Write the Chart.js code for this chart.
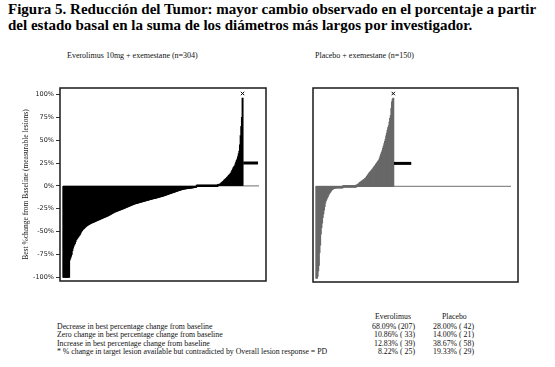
<!DOCTYPE html>
<html>
<head>
<meta charset="utf-8">
<script src="https://cdn.jsdelivr.net/npm/chart.js@4.4.1/dist/chart.umd.min.js"></script>
<style>
  html, body { margin: 0; padding: 0; background: #fff; }
  body { width: 555px; height: 367px; position: relative; overflow: hidden;
         font-family: "Liberation Serif", "Times New Roman", serif; color: #000; }
  .title { position: absolute; left: 8px; top: 1px; font-weight: bold; font-size: 15px;
           line-height: 16px; white-space: nowrap; }
  .sub { position: absolute; top: 51px; font-size: 8px; white-space: nowrap; color: #111; }
  .cv { position: absolute; }
  .tbl { position: absolute; font-size: 7.8px; white-space: pre; color: #111; line-height: 9px; }
</style>
</head>
<body>
<div class="title">Figura 5. Reducción del Tumor: mayor cambio observado en el porcentaje a partir<br>del estado basal en la suma de los diámetros más largos por investigador.</div>
<div class="sub" style="left:67px">Everolimus 10mg + exemestane (n=304)</div>
<div class="sub" style="left:315px">Placebo + exemestane (n=150)</div>
<div class="cv" style="left:0;top:80px;width:275px;height:210px"><canvas id="eveChart"></canvas></div>
<div class="cv" style="left:300px;top:80px;width:255px;height:210px"><canvas id="pboChart"></canvas></div>
<div id="table"></div>

<script>
// ── Waterfall data: best % change from baseline, one value per patient ──
// Everolimus arm: 207 decreases, 33 zero, 39 increases (sorted)
const eveChange = [
  -100, -100, -100, -100, -100, -100, -100, -100, -100, -100,
  -81, -79, -77, -75, -71, -68, -66, -64.5, -63, -61, -59,
  -58, -57, -56, -55, -54, -53, -51.5, -50, -49, -48,
  -47.3, -46.6, -46, -45.3, -44.6, -44,
  -43.5, -43, -42.6, -42.2, -41.8, -41.4, -41,
  -40.7, -40.4, -40.1, -39.8, -39.5, -39.2, -38.9, -38.5,
  -38.2, -37.9, -37.6, -37.3, -37, -36.7, -36.3, -36,
  -35.7, -35.4, -35.1, -34.8, -34.5, -34.2, -33.9, -33.6, -33.3, -33,
  -32.6, -32.2, -31.8, -31.4, -31, -30.6, -30.2, -29.8, -29.4, -29,
  -28.7, -28.4, -28.2, -27.9, -27.6, -27.3, -27, -26.8, -26.5, -26.2, -26,
  -25.7, -25.4, -25.1, -24.8, -24.5, -24.2, -23.9, -23.6, -23.3, -23,
  -22.7, -22.4, -22.1, -21.8, -21.5, -21.2, -20.9, -20.6, -20.3, -20,
  -19.8, -19.6, -19.4, -19.2, -19, -18.8, -18.6, -18.4, -18.2, -18, -17.8, -17.6, -17.4, -17.2, -17,
  -16.8, -16.6, -16.4, -16.2, -16, -15.8, -15.6, -15.4, -15.2, -15, -14.8, -14.6, -14.4, -14.2, -14.1, -14,
  -13.8, -13.6, -13.4, -13.2, -13, -12.8, -12.6, -12.4, -12.2, -12, -11.8, -11.6, -11.4, -11.2, -11,
  -10.7, -10.5, -10.2, -10, -9.7, -9.5, -9.2, -9, -8.7, -8.5, -8.2, -8, -7.7, -7.5, -7.2, -7,
  -6.8, -6.5, -6.3, -6, -5.8, -5.5, -5.3, -5, -4.8, -4.6, -4.4, -4.2, -4, -3.8, -3.6,
  -3.5, -3.4, -3.3, -3.2, -3.1, -3, -2.9, -2.8, -2.7, -2.6, -2.5, -2.4, -2.3, -2.2, -2.1, -2, -1.7, -1.4, -1,
  0, 0, 0, 0, 0, 0, 0, 0, 0, 0, 0, 0, 0, 0, 0, 0, 0, 0, 0, 0, 0, 0, 0, 0, 0, 0, 0, 0, 0, 0, 0, 0, 0,
  0.5, 1, 1.5, 2, 2.5, 3.2, 3.8, 4.4, 5, 5.8, 6.6, 7.2, 7.8, 8.4, 9.2, 10, 10.8, 11.6, 12.4, 13.2,
  14, 15.5, 17, 18.5, 20, 21, 22, 24, 26, 28, 29.5, 32, 35, 38, 45, 55, 65, 75, 96
];

// Placebo arm: 42 decreases, 21 zero, 58 increases (sorted)
const pboChange = [
  -100, -100, -98, -92, -86, -72, -64, -52, -45, -40,
  -34, -30, -26, -22, -18, -15.5, -14, -12.5, -11, -9.5,
  -8, -7, -6, -5, -4, -3.5, -3, -2.5, -2.2, -2,
  -2, -1.8, -1.8, -1.6, -1.5, -1.4, -1.3, -1.2, -1, -1, -0.8, -0.6,
  0, 0, 0, 0, 0, 0, 0, 0, 0, 0, 0, 0, 0, 0, 0, 0, 0, 0, 0, 0, 0,
  0.8, 1.5, 2.2, 3, 3.7, 4.2, 4.7, 5.3, 5.8, 6.3, 6.8, 7.3, 7.9, 8.5, 9,
  10, 11, 12, 13, 14, 15, 15.8, 16.5, 17.3, 18.2, 19, 20, 21, 22, 22.8,
  24, 25, 26, 27, 28, 29, 31, 33, 35, 37, 39, 41.5, 44, 46.5, 49,
  51.5, 55, 58, 61, 64, 66, 70, 74, 77, 85, 92, 95, 96
];

// "*" patients (contradicted by overall response = PD) plotted at this level
const pdLevel = 25;
// capped-value marker drawn above the tallest bar
const capMark = 101;
const nSlots = 304;            // shared x axis: one slot per patient of the larger arm
const yTicks = [-100, -75, -50, -25, 0, 25, 50, 75, 100];

// Summary table
const rowLabels = [
  'Decrease in best percentage change from baseline',
  'Zero change in best percentage change from baseline',
  'Increase in best percentage change from baseline',
  '* % change in target lesion available but contradicted by Overall lesion response = PD'
];
const evePct = [68.09, 10.86, 12.83, 8.22];
const eveN   = [207, 33, 39, 25];
const pboPct = [28.00, 14.00, 38.67, 19.33];
const pboN   = [42, 21, 58, 29];

// ── table ──
(function buildTable() {
  const t = document.getElementById('table');
  const add = (txt, css) => {
    const d = document.createElement('div');
    d.className = 'tbl';
    d.style.cssText = css;
    d.textContent = txt;
    t.appendChild(d);
  };
  add('Everolimus', 'left:375px;top:311.5px');
  add('Placebo', 'left:442px;top:311.5px');
  const cell = (p, n) => p.toFixed(2) + '% (' + String(n).padStart(3, ' ') + ')';
  const rowTop = [321.5, 330, 338.5, 347];
  rowLabels.forEach((lab, i) => {
    add(lab, `left:57px;top:${rowTop[i]}px`);
    add(cell(evePct[i], eveN[i]), `right:${555 - 415}px;top:${rowTop[i]}px`);
    add(cell(pboPct[i], pboN[i]), `right:${555 - 474}px;top:${rowTop[i]}px`);
  });
})();

// ── charts ──
const framePlugin = {
  id: 'frame',
  afterDraw(chart) {
    const { ctx, chartArea: a } = chart;
    ctx.save();
    ctx.strokeStyle = '#1a1a1a';
    ctx.lineWidth = 1.5;
    ctx.strokeRect(a.left, a.top, a.right - a.left, a.bottom - a.top);
    ctx.restore();
  }
};

function makeWaterfall(id, values, pdCount, barColor, showAxis, padding) {
  const bars = values.map((v, i) => ({ x: i, y: v }));
  const pdLine = [];
  for (let k = 0; k < pdCount; k++) pdLine.push({ x: values.length + k, y: pdLevel });
  const zeroLine = [{ x: -0.5, y: 0 }, { x: nSlots - 0.5, y: 0 }];
  const topIdx = values.indexOf(Math.max(...values));

  return new Chart(document.getElementById(id), {
    type: 'bar',
    data: {
      datasets: [
        {
          type: 'line', data: zeroLine, borderColor: '#8c8c8c', borderWidth: 1.3,
          pointRadius: 0, order: 3
        },
        {
          data: bars, backgroundColor: barColor, borderWidth: 0,
          barThickness: 1.3, minBarLength: 1.6, order: 2
        },
        {
          type: 'line', data: pdLine, borderColor: '#000', borderWidth: 3,
          pointRadius: 0, order: 1
        },
        {
          type: 'line', data: [{ x: topIdx, y: capMark }], showLine: false,
          pointStyle: 'crossRot', pointRadius: 2.4, borderColor: '#000', borderWidth: 1,
          order: 0
        }
      ]
    },
    options: {
      responsive: true, maintainAspectRatio: false, animation: false,
      layout: { padding },
      plugins: { legend: { display: false }, tooltip: { enabled: false } },
      scales: {
        x: { type: 'linear', min: -5.15, max: 314.35, offset: false, display: false },
        y: {
          min: -104, max: 107, display: showAxis,
          afterBuildTicks: ax => { ax.ticks = yTicks.map(v => ({ value: v })); },
          afterFit: ax => { if (showAxis) ax.width = 38; },
          grid: { drawOnChartArea: false, drawTicks: true, tickLength: 4, color: '#333', tickWidth: 1 },
          border: { display: false },
          ticks: {
            padding: 2, color: '#222',
            font: { family: 'DejaVu Sans', size: 6.5 },
            callback: v => v + '%'
          },
          title: {
            display: true, text: 'Best %change from Baseline (measurable lesions)',
            color: '#222', padding: 0,
            font: { family: 'Liberation Serif', size: 7.5 }
          }
        }
      }
    },
    plugins: [framePlugin]
  });
}

makeWaterfall('eveChart', eveChange, eveN[3], '#000', true,
  { left: 22, right: 9, top: 8, bottom: 9 });
makeWaterfall('pboChart', pboChange, pboN[3], '#686868', false,
  { left: 13, right: 37, top: 8, bottom: 8 });
</script>
</body>
</html>
